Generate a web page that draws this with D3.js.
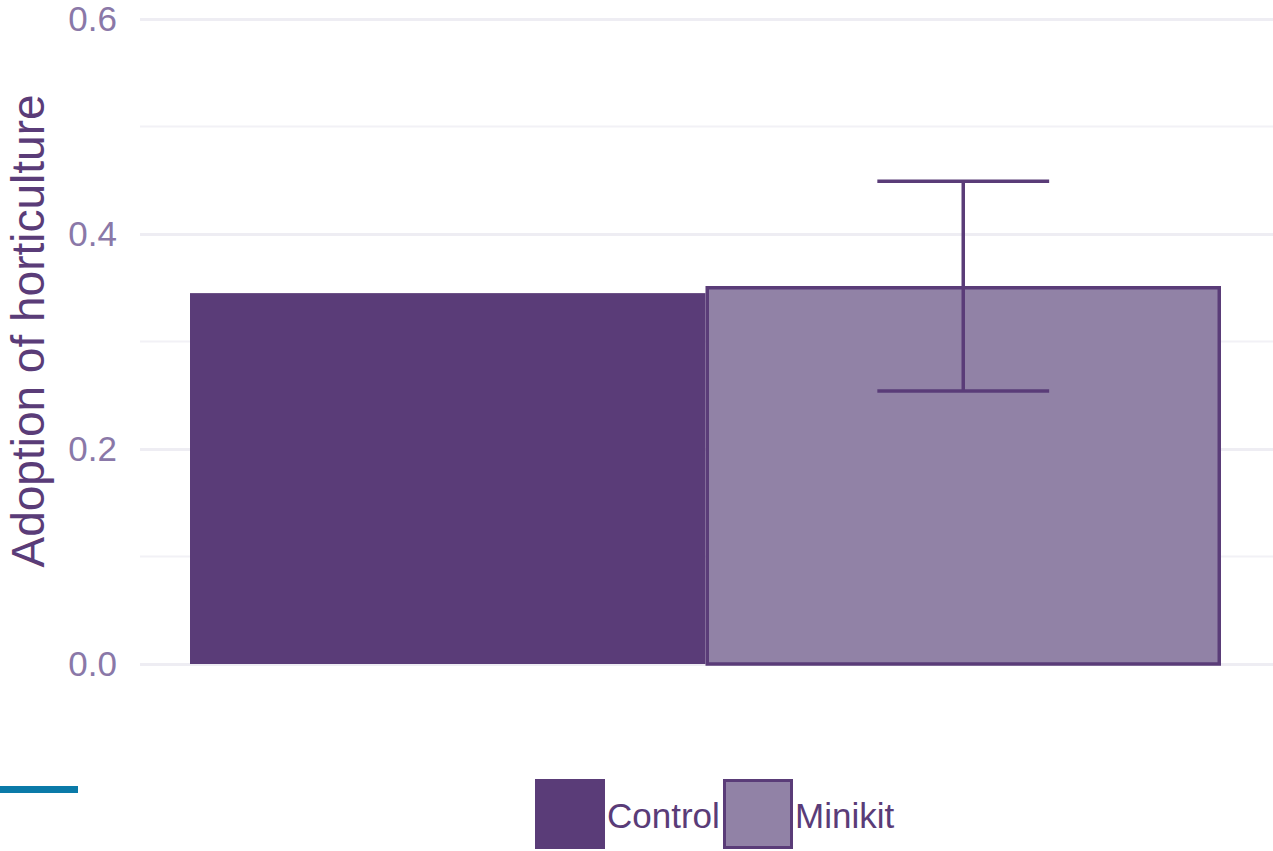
<!DOCTYPE html>
<html>
<head>
<meta charset="utf-8">
<script src="https://cdn.jsdelivr.net/npm/d3@7"></script>
<style>
  body { margin: 0; background: #fff; }
  svg { display: block; font-family: "Liberation Sans", Arial, sans-serif; }
</style>
</head>
<body>
<div id="chart"></div>
<script>
// données
const groups = ["Control", "Minikit"];
const values = [0.345, 0.350];
const errLow = [null, 0.254];
const errHigh = [null, 0.449];
const majorTicks = [0.0, 0.2, 0.4, 0.6];
const minorTicks = [0.1, 0.3, 0.5];

const W = 1273, H = 851;
const dark = "#5a3c78", light = "#9182a6";

const svg = d3.select("#chart").append("svg")
  .attr("width", W).attr("height", H);

// échelles
const y = d3.scaleLinear().domain([0, 0.6]).range([664, 19]);
const x = d3.scaleBand().domain(groups).range([190, 1221]).padding(0);

// grille
svg.append("g").selectAll("line").data(minorTicks).join("line")
  .attr("x1", 140).attr("x2", W)
  .attr("y1", d => y(d)).attr("y2", d => y(d))
  .attr("stroke", "#f2f1f6").attr("stroke-width", 2);

const yAxis = svg.append("g")
  .attr("transform", "translate(140,0)")
  .call(d3.axisLeft(y).tickValues(majorTicks).tickFormat(d3.format(".1f"))
    .tickSize(-(W - 140)).tickPadding(23));
yAxis.select(".domain").remove();
yAxis.selectAll(".tick line").attr("stroke", "#eeedf3").attr("stroke-width", 3);
yAxis.selectAll(".tick text")
  .attr("fill", "#8a78a8").attr("font-size", 35).attr("font-family", "Liberation Sans, Arial, sans-serif");

// barres (la seconde a un contour tracé à l'intérieur)
const sw = 3.5;
svg.append("g").selectAll("rect").data(groups).join("rect")
  .attr("x", (d, i) => x(d) + (i ? sw / 2 : 0))
  .attr("width", (d, i) => x.bandwidth() - (i ? sw : 0))
  .attr("y", (d, i) => y(values[i]))
  .attr("height", (d, i) => y(0) - y(values[i]))
  .attr("fill", (d, i) => i === 0 ? dark : light)
  .attr("stroke", (d, i) => i === 0 ? "none" : dark)
  .attr("stroke-width", sw);

// barre d'erreur
const capW = x.bandwidth() / 3;
groups.forEach((g, i) => {
  if (errLow[i] == null) return;
  const cx = x(g) + x.bandwidth() / 2;
  const e = svg.append("g").attr("stroke", dark).attr("stroke-width", 3.5);
  e.append("line").attr("x1", cx).attr("x2", cx).attr("y1", y(errLow[i])).attr("y2", y(errHigh[i]));
  [errLow[i], errHigh[i]].forEach(v => {
    e.append("line").attr("x1", cx - capW / 2).attr("x2", cx + capW / 2)
      .attr("y1", y(v)).attr("y2", y(v));
  });
});

// titre de l'axe Y
svg.append("text")
  .attr("transform", "translate(44,331) rotate(-90)")
  .attr("text-anchor", "middle")
  .attr("fill", dark)
  .attr("font-size", 46)
  .text("Adoption of horticulture");

// légende
const legendX = [535, 723];
groups.forEach((g, i) => {
  svg.append("rect")
    .attr("x", legendX[i] + (i ? 1.5 : 0)).attr("y", 779 + (i ? 1.5 : 0))
    .attr("width", i ? 67 : 70).attr("height", i ? 67 : 70)
    .attr("fill", i === 0 ? dark : light)
    .attr("stroke", i === 0 ? "none" : dark)
    .attr("stroke-width", 3);
  svg.append("text")
    .attr("x", legendX[i] + 72).attr("y", 828)
    .attr("fill", dark).attr("font-size", 35)
    .text(g);
});

// trait bleu en bas à gauche
svg.append("rect")
  .attr("x", 0).attr("y", 786).attr("width", 78).attr("height", 7)
  .attr("fill", "#0a7aa8");
</script>
</body>
</html>
